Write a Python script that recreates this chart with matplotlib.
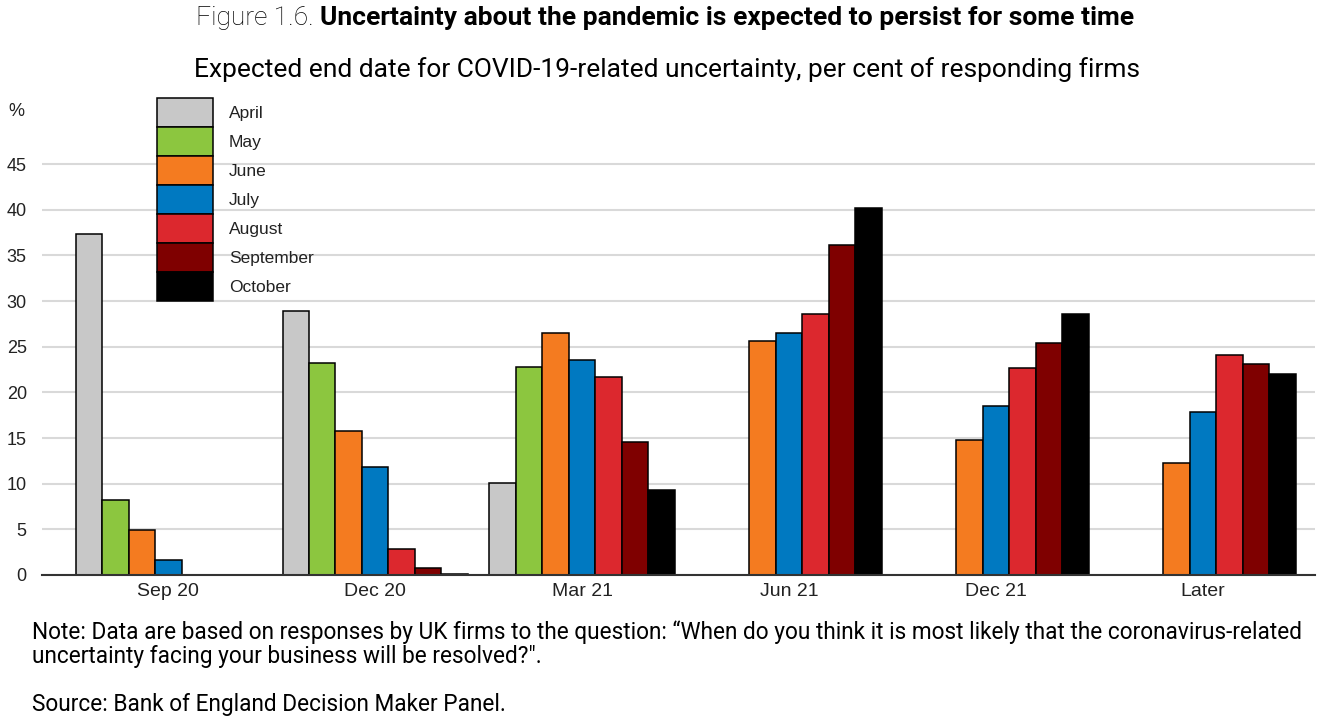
import numpy as np
import matplotlib
matplotlib.use("Agg")
import matplotlib.pyplot as plt
from matplotlib.patches import Patch

# Dados
categories = ["Sep 20", "Dec 20", "Mar 21", "Jun 21", "Dec 21", "Later"]
months = ["April", "May", "June", "July", "August", "September", "October"]
april = [37.3, 28.9, 10.1, np.nan, np.nan, np.nan]
may = [8.2, 23.2, 22.8, np.nan, np.nan, np.nan]
june = [4.9, 15.8, 26.5, 25.6, 14.8, 12.3]
july = [1.6, 11.8, 23.6, 26.5, 18.5, 17.8]
august = [0.0, 2.8, 21.7, 28.6, 22.7, 24.1]
september = [0.0, 0.8, 14.6, 36.1, 25.4, 23.1]
october = [0.0, 0.1, 9.3, 40.2, 28.6, 22.0]
series = [april, may, june, july, august, september, october]
colors = ["#c8c8c8", "#8cc63f", "#f47b20", "#0079c1", "#dc282e", "#7f0000", "#000000"]

fig = plt.figure(figsize=(13.43, 7.19), dpi=100)
ax = fig.add_axes([0.0313, 0.2003, 0.9477, 0.6349])

x = np.arange(len(categories))
w = 0.128
for i, vals in enumerate(series):
    ax.bar(x + (i - 3) * w, vals, width=w, color=colors[i],
           edgecolor="black", linewidth=1.1, zorder=3)

ax.set_ylim(0, 50)
ax.set_xlim(-0.61, 5.54)
ax.set_yticks(range(0, 50, 5))
ax.set_xticks(x)
ax.set_xticklabels(categories)
ax.yaxis.grid(True, color="#d9d9d9", linewidth=1.5, zorder=0)
ax.tick_params(axis="both", length=0, labelsize=14, colors="#222222")
ax.tick_params(axis="y", pad=11, labelsize=13)
ax.tick_params(axis="x", pad=6)
for lab in ax.get_xticklabels() + ax.get_yticklabels():
    lab.set_fontfamily("Liberation Sans")
for s in ["top", "right", "left"]:
    ax.spines[s].set_visible(False)
ax.spines["bottom"].set_color("#333333")
ax.spines["bottom"].set_linewidth(1.5)
ax.spines["bottom"].set_zorder(4)

fig.text(8 / 1343, 1 - 111 / 719, "%", fontsize=13, family="Liberation Sans",
         color="#222222", va="center", ha="left")

handles = [Patch(facecolor=c, edgecolor="black", linewidth=1.1) for c in colors]
leg = ax.legend(handles, months, loc="upper left",
                bbox_to_anchor=(157 / 1343, 1 - 98 / 719), bbox_transform=fig.transFigure,
                frameon=False, borderpad=0, borderaxespad=0,
                prop={"family": "Liberation Sans", "size": 12.5},
                handlelength=3.2, handleheight=2.19, labelspacing=0, handletextpad=0.95)
for t in leg.get_texts():
    t.set_color("#222222")

# Titulo em duas partes
r = fig.canvas.get_renderer()
t1 = fig.text(0, 1 - 18 / 719, "Figure 1.6. ", fontsize=19, family="Roboto",
              fontweight="light", va="center", ha="left")
t2 = fig.text(0, 1 - 18 / 719, "Uncertainty about the pandemic is expected to persist for some time",
              fontsize=19, family="Roboto", fontweight="bold", va="center", ha="left")
w1 = t1.get_window_extent(r).width
x0 = 196
t1.set_x(x0 / 1343)
t2.set_x((x0 + w1) / 1343)

fig.text(0.497, 1 - 70 / 719,
         "Expected end date for COVID-19-related uncertainty, per cent of responding firms",
         fontsize=19, family="Roboto", va="center", ha="center")

fig.text(32 / 1343, 1 - 644 / 719,
         "Note: Data are based on responses by UK firms to the question: \u201cWhen do you think it is most likely that the coronavirus-related\n"
         "uncertainty facing your business will be resolved?\".",
         fontsize=16.3, family="Roboto", va="center", ha="left", linespacing=1.05)
fig.text(32 / 1343, 1 - 704 / 719, "Source: Bank of England Decision Maker Panel.",
         fontsize=16.3, family="Roboto", va="center", ha="left")

fig.savefig("out.png", dpi=100)
